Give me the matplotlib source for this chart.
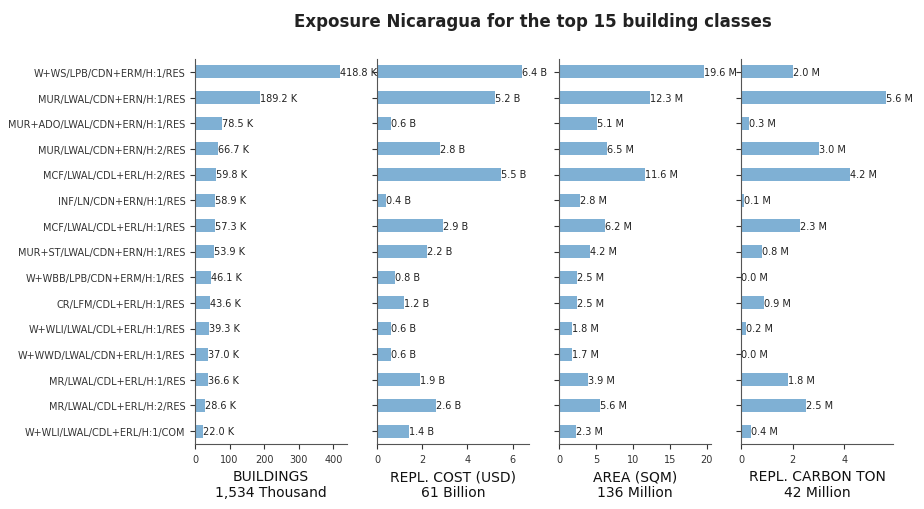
import matplotlib.pyplot as plt
import numpy as np

classes = ['W+WS/LPB/CDN+ERM/H:1/RES', 'MUR/LWAL/CDN+ERN/H:1/RES',
           'MUR+ADO/LWAL/CDN+ERN/H:1/RES', 'MUR/LWAL/CDN+ERN/H:2/RES',
           'MCF/LWAL/CDL+ERL/H:2/RES', 'INF/LN/CDN+ERN/H:1/RES',
           'MCF/LWAL/CDL+ERL/H:1/RES', 'MUR+ST/LWAL/CDN+ERN/H:1/RES',
           'W+WBB/LPB/CDN+ERM/H:1/RES', 'CR/LFM/CDL+ERL/H:1/RES',
           'W+WLI/LWAL/CDL+ERL/H:1/RES', 'W+WWD/LWAL/CDN+ERL/H:1/RES',
           'MR/LWAL/CDL+ERL/H:1/RES', 'MR/LWAL/CDL+ERL/H:2/RES',
           'W+WLI/LWAL/CDL+ERL/H:1/COM']

buildings_k = [418.8, 189.2, 78.5, 66.7, 59.8, 58.9, 57.3, 53.9, 46.1, 43.6,
               39.3, 37.0, 36.6, 28.6, 22.0]
cost_b = [6.4, 5.2, 0.6, 2.8, 5.5, 0.4, 2.9, 2.2, 0.8, 1.2, 0.6, 0.6, 1.9, 2.6, 1.4]
area_m = [19.6, 12.3, 5.1, 6.5, 11.6, 2.8, 6.2, 4.2, 2.5, 2.5, 1.8, 1.7, 3.9, 5.6, 2.3]
carbon_m = [2.0, 5.6, 0.3, 3.0, 4.2, 0.1, 2.3, 0.8, 0.0, 0.9, 0.2, 0.0, 1.8, 2.5, 0.4]

panels = [
    (buildings_k, 'K', 'BUILDINGS\n1,534 Thousand'),
    (cost_b, 'B', 'REPL. COST (USD)\n61 Billion'),
    (area_m, 'M', 'AREA (SQM)\n136 Million'),
    (carbon_m, 'M', 'REPL. CARBON TON\n42 Million'),
]

bar_color = '#7fb0d4'

fig = plt.figure(figsize=(9.24, 5.1), dpi=100)
y = np.arange(len(classes))

left0 = 195 / 924
width = 152 / 924
step = 182 / 924
bottom = 1 - 445 / 510
height = (445 - 60) / 510

for i, (vals, unit, xlabel) in enumerate(panels):
    ax = fig.add_axes([left0 + i * step, bottom, width, height])
    ax.barh(y, vals, height=0.5, color=bar_color)
    ax.set_ylim(len(classes) - 0.5, -0.5)
    ax.set_xlim(0, max(vals) * 1.05)
    for yy, v in zip(y, vals):
        ax.text(v, yy, '%.1f %s' % (v, unit), ha='left', va='center',
                fontsize=7, color='#222222')
    ax.set_yticks(y)
    if i == 0:
        ax.set_yticklabels(classes, fontsize=7, color='#222222')
    else:
        ax.set_yticklabels([])
    ax.tick_params(axis='x', labelsize=7, colors='#333333')
    ax.tick_params(axis='y', colors='#333333')
    ax.set_xlabel(xlabel, fontsize=10, color='#111111')
    ax.spines['top'].set_visible(False)
    ax.spines['right'].set_visible(False)
    ax.spines['left'].set_color('#555555')
    ax.spines['bottom'].set_color('#555555')

fig.suptitle('Exposure Nicaragua for the top 15 building classes',
             x=0.577, y=0.975, fontsize=12, fontweight='bold', color='#222222')

plt.savefig('out.png', dpi=100)
plt.close(fig)
